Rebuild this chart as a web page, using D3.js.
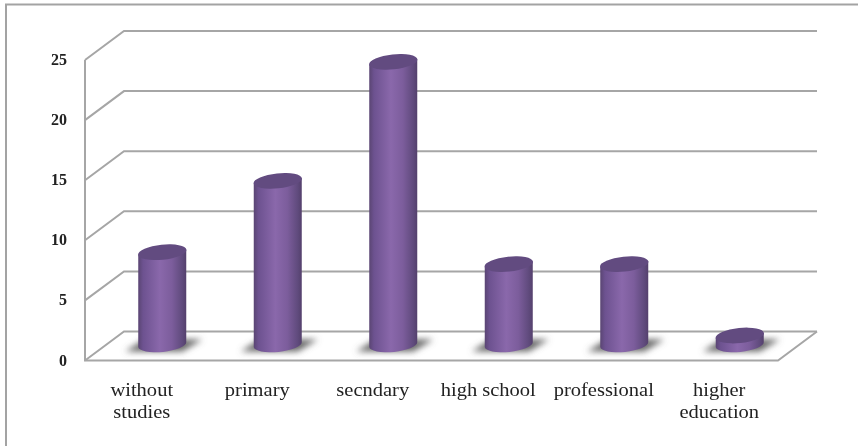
<!DOCTYPE html>
<html><head><meta charset="utf-8">
<script src="https://cdn.jsdelivr.net/npm/d3@7"></script>
<style>html,body{margin:0;padding:0;background:#fff;overflow:hidden}svg{display:block}</style>
</head><body><div id="c"></div>
<script>
const categories = [["without","studies"],["primary"],["secndary"],["high school"],["professional"],["higher","education"]];
const values = [8,14,24,7,7,1];
const tickValues = [0,5,10,15,20,25];

const W=858,H=446;
const svg=d3.select("#c").append("svg").attr("width",W).attr("height",H);
const defs=svg.append("defs");
const g=defs.append("linearGradient").attr("id","cyl");
[[0,"#5a4573"],[0.1,"#6d5290"],[0.45,"#8a68ab"],[0.7,"#7c5d9c"],[0.92,"#5f4a7c"],[1,"#54406c"]]
 .forEach(s=>g.append("stop").attr("offset",s[0]).attr("stop-color",s[1]));
defs.append("filter").attr("id","bl").attr("x","-30%").attr("y","-80%").attr("width","160%").attr("height","260%")
 .append("feGaussianBlur").attr("stdDeviation",3);
defs.append("filter").attr("id","soft").append("feGaussianBlur").attr("stdDeviation",0.4);

svg.append("rect").attr("x",6).attr("y",4.5).attr("width",900).attr("height",500)
 .attr("fill","none").attr("stroke","#a3a3a3").attr("stroke-width",2);

const yFront=d3.scaleLinear().domain([0,25]).range([360.5,60]);
const yBar=d3.scaleLinear().domain([0,25]).range([347.4,50]);
const xBand=d3.scaleBand().domain(d3.range(categories.length)).range([85,778]);
const dx=39,dy=-29,bottomLift=3;

const grid=svg.append("g").attr("fill","none").attr("stroke","#a6a6a6").attr("stroke-width",2);
grid.selectAll("path").data(tickValues).join("path")
 .attr("d",t=>{const y=yFront(t);return d3.line()([[85,y],[85+dx,y+dy],[778+dx,y+dy]]);});
grid.append("path").attr("d",d3.line()([[85,yFront(25)],[85,yFront(0)],[778,yFront(0)],[778+dx,yFront(0)+dy]]));

const bars=svg.append("g").selectAll("g").data(values).join("g")
 .attr("transform",(d,i)=>`translate(${xBand(i)+xBand.bandwidth()/2+dx/2},0)`);
const rx=24,ry=7.5,tilt=-6;
bars.append("path").attr("filter","url(#bl)").attr("fill","#666")
 .attr("d",()=>{const b=yBar(0);return d3.line()([[-37,b+4],[-18,b-8],[40,b-8],[20,b+4]]);});
bars.append("path").attr("fill","url(#cyl)")
 .attr("d",d=>{const t=yBar(d),b=yBar(0)-bottomLift;
   const s=Math.tan(-tilt*Math.PI/180)*rx;
   return `M${-rx},${t+s}L${-rx},${b+s}A${rx},${ry} ${tilt} 0 0 ${rx},${b-s}L${rx},${t-s}Z`;});
bars.append("ellipse").attr("rx",rx+0.3).attr("ry",ry).attr("fill","#624b80")
 .attr("transform",d=>`translate(0,${yBar(d)}) rotate(${tilt})`);

const txt="'Liberation Serif',serif";
svg.append("g").selectAll("text").data(tickValues).join("text")
 .attr("x",67).attr("y",t=>yFront(t)+5)
 .attr("text-anchor","end").attr("font-family",txt).attr("font-size",16).attr("font-weight","bold")
 .attr("fill","#222").attr("filter","url(#soft)").text(t=>t);

const cats=svg.append("g").selectAll("g").data(categories).join("g")
 .attr("transform",(d,i)=>`translate(${xBand(i)+xBand.bandwidth()/2-1},0) scale(1.08,1)`);
cats.selectAll("text").data(d=>d).join("text")
 .attr("y",(d,i)=>396+i*22).attr("text-anchor","middle")
 .attr("font-family",txt).attr("font-size",19).attr("fill","#222").attr("filter","url(#soft)").text(d=>d);
</script></body></html>
